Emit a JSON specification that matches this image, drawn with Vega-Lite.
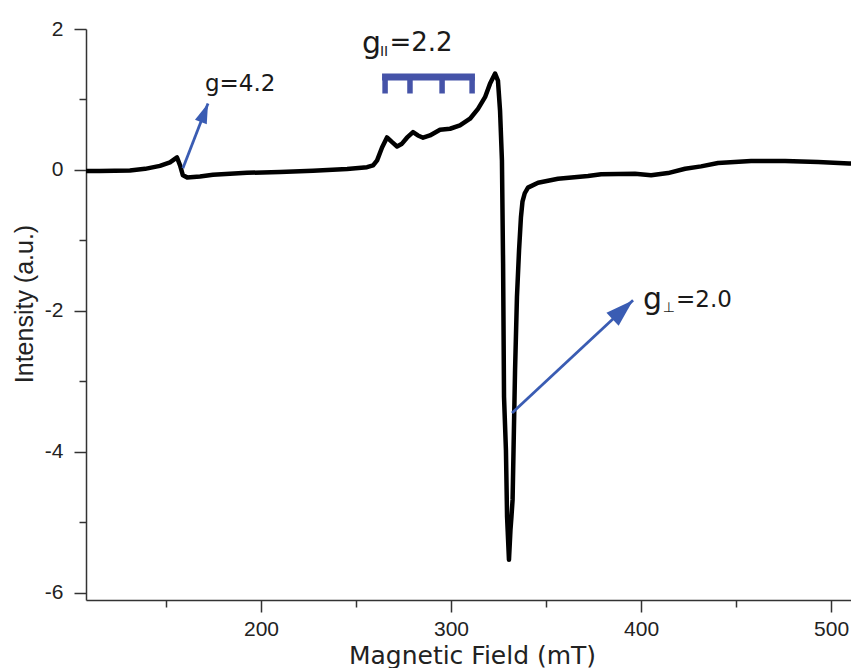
{
  "$schema": "https://vega.github.io/schema/vega-lite/v6.json",
  "width": 765,
  "height": 571,
  "autosize": {"type": "none"},
  "padding": {"left": 86, "top": 29, "right": 0, "bottom": 68},
  "background": "white",
  "config": {
    "view": {"stroke": null},
    "axis": {
      "domainColor": "#333333",
      "domainWidth": 1.5,
      "tickColor": "#333333",
      "tickWidth": 1.5,
      "labelFont": "Liberation Sans",
      "labelFontSize": 21,
      "labelColor": "#222222",
      "grid": false,
      "titleColor": "#222222",
      "titleFontWeight": "normal",
      "labelOverlap": false,
      "labelFlush": false
    }
  },
  "datasets": {
    "curve": [
      {"x": 107.9, "y": -0.013}, {"x": 115, "y": -0.013}, {"x": 131, "y": -0.006}, {"x": 139, "y": 0.016},
      {"x": 146.8, "y": 0.058}, {"x": 152.1, "y": 0.108}, {"x": 155.8, "y": 0.178}, {"x": 157.4, "y": 0.065},
      {"x": 158.9, "y": -0.076}, {"x": 161.1, "y": -0.105}, {"x": 167.9, "y": -0.091}, {"x": 174.7, "y": -0.069},
      {"x": 192.6, "y": -0.04}, {"x": 210, "y": -0.03}, {"x": 227.4, "y": -0.01}, {"x": 245.3, "y": 0.015},
      {"x": 255.8, "y": 0.04}, {"x": 259, "y": 0.065}, {"x": 261.1, "y": 0.136}, {"x": 263.7, "y": 0.32},
      {"x": 266.3, "y": 0.462}, {"x": 269, "y": 0.395}, {"x": 271.6, "y": 0.334}, {"x": 274.2, "y": 0.373},
      {"x": 276.8, "y": 0.458}, {"x": 280, "y": 0.537}, {"x": 282.6, "y": 0.49}, {"x": 285.3, "y": 0.458},
      {"x": 288.9, "y": 0.49}, {"x": 294.2, "y": 0.571}, {"x": 299.5, "y": 0.585}, {"x": 304.7, "y": 0.632},
      {"x": 310, "y": 0.727}, {"x": 314.2, "y": 0.868}, {"x": 317.9, "y": 1.033}, {"x": 320.5, "y": 1.222},
      {"x": 323.2, "y": 1.368}, {"x": 324.7, "y": 1.269}, {"x": 325.8, "y": 0.844}, {"x": 326.8, "y": 0.136},
      {"x": 327.4, "y": -1.323}, {"x": 327.9, "y": -3.221}, {"x": 328.9, "y": -3.972}, {"x": 329.5, "y": -4.921},
      {"x": 330.5, "y": -5.53}, {"x": 331.3, "y": -5.1}, {"x": 331.8, "y": -4.92}, {"x": 332.4, "y": -4.68},
      {"x": 332.9, "y": -3.97}, {"x": 333.7, "y": -2.84}, {"x": 334.7, "y": -1.8}, {"x": 335.8, "y": -1.14},
      {"x": 336.8, "y": -0.67}, {"x": 337.6, "y": -0.45}, {"x": 338.8, "y": -0.33}, {"x": 340.5, "y": -0.25}, {"x": 345.8, "y": -0.18},
      {"x": 356.3, "y": -0.125}, {"x": 372.1, "y": -0.085}, {"x": 379, "y": -0.06}, {"x": 396.8, "y": -0.055},
      {"x": 405.3, "y": -0.076}, {"x": 414.2, "y": -0.044}, {"x": 423.2, "y": 0.018}, {"x": 431.6, "y": 0.051},
      {"x": 440.5, "y": 0.098}, {"x": 457.9, "y": 0.126}, {"x": 475.8, "y": 0.126}, {"x": 493.2, "y": 0.112},
      {"x": 509.5, "y": 0.093}, {"x": 511, "y": 0.09}
    ],
    "arrows": [
      {"id": "a1", "x": 158.9, "y": 0.023, "x2": 172.1, "y2": 0.943},
      {"id": "a2", "x": 332.1, "y": -3.448, "x2": 395.8, "y2": -1.847}
    ],
    "bar": [
      {"x": 263.7, "x2": 312.6, "y": 1.319}
    ],
    "barticks": [
      {"x": 265.3, "y": 1.319, "y2": 1.085},
      {"x": 278.4, "y": 1.319, "y2": 1.085},
      {"x": 295.3, "y": 1.319, "y2": 1.085},
      {"x": 311.1, "y": 1.319, "y2": 1.085}
    ],
    "labels": [
      {"id": "mid", "text": "g=4.2", "x": 170.5, "y": 1.127},
      {"id": "big", "text": "g", "x": 401.1, "y": -1.975},
      {"id": "sub", "text": "⊥", "x": 411.4, "y": -2.02},
      {"id": "rest", "text": "=2.0", "x": 418.4, "y": -1.94},
      {"id": "big", "text": "g", "x": 253.2, "y": 1.666},
      {"id": "subII", "text": "II", "x": 262.6, "y": 1.623},
      {"id": "rest2", "text": "=2.2", "x": 267.6, "y": 1.694}
    ]
  },
  "resolve": {"axis": {"x": "independent", "y": "independent"}},
  "layer": [
    {
      "data": {"name": "curve"},
      "mark": {"type": "line", "color": "black", "strokeWidth": 4.5, "strokeJoin": "round", "clip": true},
      "encoding": {
        "x": {"field": "x", "type": "quantitative", "scale": {"domain": [107.9, 510.5], "nice": false, "zero": false},
          "axis": {"orient": "bottom", "values": [200, 300, 400, 500], "tickSize": 12, "labelPadding": 6,
            "title": "Magnetic Field (mT)", "titleFont": "DejaVu Sans", "titleFontSize": 25,
            "titleX": 386, "titleY": 63, "titleBaseline": "alphabetic"}},
        "y": {"field": "y", "type": "quantitative", "scale": {"domain": [-6.1, 2], "nice": false, "zero": false},
          "axis": {"orient": "left", "values": [-6, -4, -2, 0, 2], "tickSize": 12, "labelPadding": 11,
            "labelExpr": "'' + datum.value",
            "title": "Intensity (a.u.)", "titleFont": "Liberation Sans", "titleFontSize": 25,
            "titleAngle": 270, "titleX": -54, "titleY": 274.5, "titleBaseline": "alphabetic"}}
      }
    },
    {
      "data": {"name": "bar"},
      "mark": {"type": "rule", "color": "#4553a8", "strokeWidth": 7, "strokeCap": "butt"},
      "encoding": {
        "x": {"field": "x", "type": "quantitative", "scale": {"domain": [107.9, 510.5], "nice": false, "zero": false},
          "axis": {"orient": "bottom", "values": [150, 250, 350, 450], "tickSize": 7, "labels": false, "domain": false, "title": null}},
        "x2": {"field": "x2"},
        "y": {"field": "y", "type": "quantitative", "scale": {"domain": [-6.1, 2], "nice": false, "zero": false},
          "axis": {"orient": "left", "values": [-5, -3, -1, 1], "tickSize": 7, "labels": false, "domain": false, "title": null}}
      }
    },
    {
      "data": {"name": "barticks"},
      "mark": {"type": "rule", "color": "#4553a8", "strokeWidth": 5.5, "strokeCap": "butt"},
      "encoding": {
        "x": {"field": "x", "type": "quantitative", "axis": null},
        "y": {"field": "y", "type": "quantitative", "axis": null},
        "y2": {"field": "y2"}
      }
    },
    {
      "data": {"name": "arrows"},
      "mark": {"type": "rule", "color": "#3a5cb3", "strokeWidth": 2.8},
      "encoding": {
        "x": {"field": "x", "type": "quantitative", "axis": null},
        "y": {"field": "y", "type": "quantitative", "axis": null},
        "x2": {"field": "x2"},
        "y2": {"field": "y2"}
      }
    },
    {
      "data": {"name": "arrows"},
      "transform": [{"filter": "datum.id === 'a1'"}],
      "mark": {"type": "point", "shape": "M0,0L-0.35,1.1L0.35,1.1Z", "filled": true, "color": "#3a5cb3", "opacity": 1, "size": 1300, "angle": 21},
      "encoding": {
        "x": {"field": "x2", "type": "quantitative", "axis": null},
        "y": {"field": "y2", "type": "quantitative", "axis": null}
      }
    },
    {
      "data": {"name": "arrows"},
      "transform": [{"filter": "datum.id === 'a2'"}],
      "mark": {"type": "point", "shape": "M0,0L-0.35,1.1L0.35,1.1Z", "filled": true, "color": "#3a5cb3", "opacity": 1, "size": 2600, "angle": 47},
      "encoding": {
        "x": {"field": "x2", "type": "quantitative", "axis": null},
        "y": {"field": "y2", "type": "quantitative", "axis": null}
      }
    },
    {
      "data": {"name": "labels"},
      "transform": [{"filter": "datum.id === 'mid'"}],
      "mark": {"type": "text", "font": "DejaVu Sans", "fontSize": 23, "align": "left", "baseline": "alphabetic", "color": "#1a1a1a"},
      "encoding": {
        "x": {"field": "x", "type": "quantitative", "axis": null},
        "y": {"field": "y", "type": "quantitative", "axis": null},
        "text": {"field": "text"}
      }
    },
    {
      "data": {"name": "labels"},
      "transform": [{"filter": "datum.id === 'big'"}],
      "mark": {"type": "text", "font": "DejaVu Sans", "fontSize": 30, "align": "left", "baseline": "alphabetic", "color": "#1a1a1a"},
      "encoding": {
        "x": {"field": "x", "type": "quantitative", "axis": null},
        "y": {"field": "y", "type": "quantitative", "axis": null},
        "text": {"field": "text"}
      }
    },
    {
      "data": {"name": "labels"},
      "transform": [{"filter": "datum.id === 'sub' || datum.id === 'subII'"}],
      "mark": {"type": "text", "font": "DejaVu Sans", "fontSize": 14, "align": "left", "baseline": "alphabetic", "color": "#1a1a1a"},
      "encoding": {
        "x": {"field": "x", "type": "quantitative", "axis": null},
        "y": {"field": "y", "type": "quantitative", "axis": null},
        "text": {"field": "text"}
      }
    },
    {
      "data": {"name": "labels"},
      "transform": [{"filter": "datum.id === 'rest'"}],
      "mark": {"type": "text", "font": "DejaVu Sans", "fontSize": 23, "align": "left", "baseline": "alphabetic", "color": "#1a1a1a"},
      "encoding": {
        "x": {"field": "x", "type": "quantitative", "axis": null},
        "y": {"field": "y", "type": "quantitative", "axis": null},
        "text": {"field": "text"}
      }
    },
    {
      "data": {"name": "labels"},
      "transform": [{"filter": "datum.id === 'rest2'"}],
      "mark": {"type": "text", "font": "DejaVu Sans", "fontSize": 26, "align": "left", "baseline": "alphabetic", "color": "#1a1a1a"},
      "encoding": {
        "x": {"field": "x", "type": "quantitative", "axis": null},
        "y": {"field": "y", "type": "quantitative", "axis": null},
        "text": {"field": "text"}
      }
    }
  ]
}
